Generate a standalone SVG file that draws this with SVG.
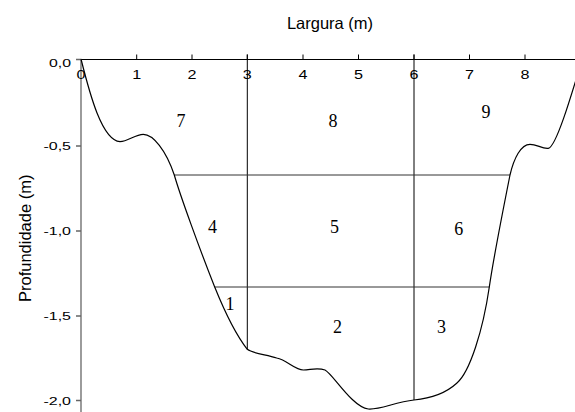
<svg xmlns="http://www.w3.org/2000/svg" width="575" height="412" viewBox="0 0 575 412">
<style>
.ax{fill:none;stroke:#000;stroke-width:1}
.yax{fill:none;stroke:#666;stroke-width:1.3}
.grid{fill:none;stroke:#333;stroke-width:1}
.vgrid{fill:none;stroke:#000;stroke-width:1}
.bed{fill:none;stroke:#000;stroke-width:1.2}
.tk{font-family:"Liberation Sans",Arial,sans-serif;font-size:12px;fill:#000}
.ytk{font-family:"Liberation Sans",Arial,sans-serif;font-size:11px;fill:#000;text-anchor:end}
.ttl{font-family:"Liberation Sans",Arial,sans-serif;font-size:16.5px;fill:#000;text-anchor:middle}
.num{font-family:"Liberation Serif","Times New Roman",serif;font-size:18px;fill:#000;text-anchor:middle}
</style>
<rect width="575" height="412" fill="#fff"/>
<g id="axes">
  <line class="ax" x1="81" y1="59.5" x2="575" y2="59.5"/>
  <path class="ax" d="M136.7,59.5V54.5M192,59.5V54.5M247.3,59.5V54.5M303,59.5V54.5M358.5,59.5V54.5M414,59.5V54.5M469.5,59.5V54.5M525,59.5V54.5"/>
  <line class="yax" x1="81" y1="59" x2="81" y2="412"/>
  <path class="yax" d="M76,59.5H81M76,146H81M76,231H81M76,316H81M76,400.5H81"/>
</g>
<g id="grid">
  <line class="vgrid" x1="247.3" y1="54.5" x2="247.3" y2="349.3"/>
  <line class="vgrid" x1="414" y1="54.5" x2="414" y2="400"/>
  <line class="grid" x1="174.3" y1="175" x2="510" y2="175"/>
  <line class="grid" x1="214.7" y1="287" x2="489.3" y2="287"/>
</g>
<g id="bed">
  <path class="bed" d="M81,59 C90,95 102,140 120,141.7 C128,141.7 135,134.3 143.3,134.3 C153,134.3 166,150 174.3,175 C180,195 200,250 214.7,287 C224,310 236,335 247.3,349.3 C253,353.5 265,354.5 276.7,358 C287,360 295,370 303.3,370 C312,369.5 318,367.5 325,370 C333,374 352,407 368.3,409 C380,410 395,402 414,400 C430,398.5 445,394 456.7,383.3 C470,372 483,330 489.3,287 C494,255 503,210 510,175 C514,158 521,144.3 530,144.3 C537,144.3 542,149 548.3,148.3 C556,147 570,100 585,50"/>
</g>
<g id="x-labels">
  <text class="tk" x="81" y="78.5" text-anchor="middle" textLength="9" lengthAdjust="spacingAndGlyphs">0</text>
  <text class="tk" x="136.7" y="78.5" text-anchor="middle" textLength="9" lengthAdjust="spacingAndGlyphs">1</text>
  <text class="tk" x="192" y="78.5" text-anchor="middle" textLength="9" lengthAdjust="spacingAndGlyphs">2</text>
  <text class="tk" x="247.3" y="78.5" text-anchor="middle" textLength="9" lengthAdjust="spacingAndGlyphs">3</text>
  <text class="tk" x="303" y="78.5" text-anchor="middle" textLength="9" lengthAdjust="spacingAndGlyphs">4</text>
  <text class="tk" x="358.5" y="78.5" text-anchor="middle" textLength="9" lengthAdjust="spacingAndGlyphs">5</text>
  <text class="tk" x="414" y="78.5" text-anchor="middle" textLength="9" lengthAdjust="spacingAndGlyphs">6</text>
  <text class="tk" x="469.5" y="78.5" text-anchor="middle" textLength="9" lengthAdjust="spacingAndGlyphs">7</text>
  <text class="tk" x="525" y="78.5" text-anchor="middle" textLength="9" lengthAdjust="spacingAndGlyphs">8</text>
</g>
<g id="y-labels">
  <text class="ytk" x="71" y="67" textLength="22" lengthAdjust="spacingAndGlyphs">0,0</text>
  <text class="ytk" x="71" y="150" textLength="27.5" lengthAdjust="spacingAndGlyphs">-0,5</text>
  <text class="ytk" x="71" y="235" textLength="27.5" lengthAdjust="spacingAndGlyphs">-1,0</text>
  <text class="ytk" x="71" y="320" textLength="27.5" lengthAdjust="spacingAndGlyphs">-1,5</text>
  <text class="ytk" x="71" y="404.5" textLength="27.5" lengthAdjust="spacingAndGlyphs">-2,0</text>
</g>
<g id="titles">
  <text class="ttl" x="330" y="28.5">Largura (m)</text>
  <text class="ttl" font-size="17" transform="translate(31,238.3) rotate(-90)" x="0" y="0">Profundidade (m)</text>
</g>
<g id="cells">
  <text class="num" x="230" y="310">1</text>
  <text class="num" x="337.5" y="333">2</text>
  <text class="num" x="441.5" y="332.5">3</text>
  <text class="num" x="212.5" y="233">4</text>
  <text class="num" x="334.5" y="233">5</text>
  <text class="num" x="458.7" y="235">6</text>
  <text class="num" x="181" y="126.5">7</text>
  <text class="num" x="333" y="127">8</text>
  <text class="num" x="486" y="118">9</text>
</g>
</svg>
